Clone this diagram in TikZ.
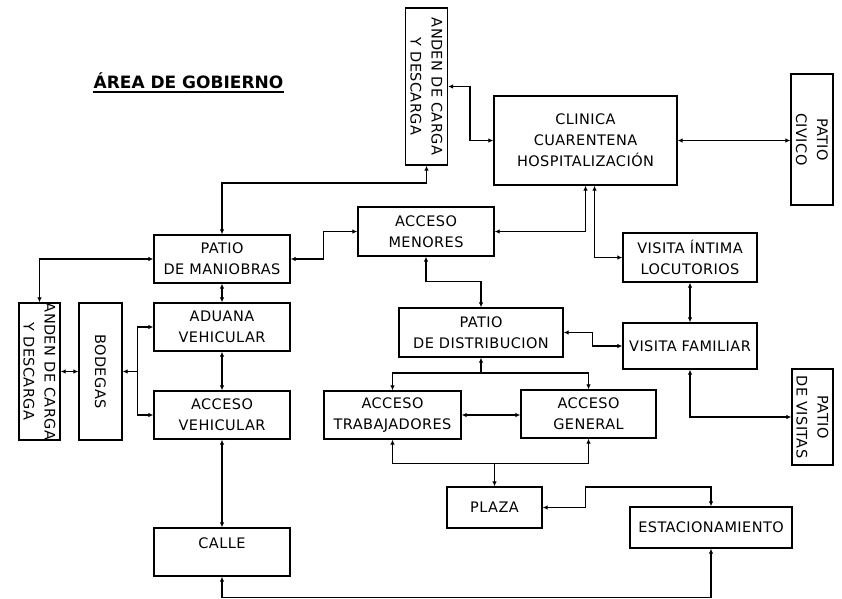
\documentclass[tikz,border=0pt]{standalone}
\usepackage{fontspec}
\setmainfont{DejaVu Sans}
\newfontfamily\boxfont[LetterSpace=3]{DejaVu Sans}
\usetikzlibrary{arrows.meta,calc}
\begin{document}
\begin{tikzpicture}[x=1pt,y=-1pt,
  boxtext/.style={font=\boxfont\fontsize{14.5}{21}\selectfont, align=center, inner sep=0pt},
  box/.style={draw, line width=1.3pt, inner sep=0pt, boxtext},
  rotlab/.style={boxtext, rotate=-90},
  conn/.style={line width=1.1pt, {Latex[length=5pt,width=4.5pt]}-{Latex[length=5pt,width=4.5pt]}},
  conne/.style={line width=1.1pt, -{Latex[length=5pt,width=4.5pt]}},
  conns/.style={line width=1.1pt, {Latex[length=5pt,width=4.5pt]}-},
]
\useasboundingbox[fill=white] (0,0) rectangle (842,598);

% title
\node[font=\bfseries\fontsize{17}{20}\selectfont, anchor=base, inner sep=0pt] (title) at (188.5,88) {ÁREA DE GOBIERNO};
\draw[line width=1.3pt] ([yshift=-4pt]title.base west) -- ([yshift=-4pt]title.base east);

% boxes
\node[box, minimum width=42pt, minimum height=157pt, label={[rotlab]center:{ANDEN DE CARGA\\Y DESCARGA}}] (andenT) at (426.5,86.5) {};
\node[box, minimum width=183pt, minimum height=89pt] (clin) at (585.5,140.5) {CLINICA\\CUARENTENA\\HOSPITALIZACIÓN};
\node[box, minimum width=42pt, minimum height=131pt, label={[rotlab]center:{PATIO\\CIVICO}}] (civ) at (812,139.5) {};
\node[box, minimum width=136pt, minimum height=49pt] (amen) at (426,231.5) {ACCESO\\MENORES};
\node[box, minimum width=136pt, minimum height=48pt] (pman) at (222,259) {PATIO\\DE MANIOBRAS};
\node[box, minimum width=134pt, minimum height=49pt] (vint) at (690,257.5) {VISITA ÍNTIMA\\LOCUTORIOS};
\node[box, minimum width=41pt, minimum height=137pt, label={[rotlab]center:{ANDEN DE CARGA\\Y DESCARGA}}] (andenL) at (39.5,371.5) {};
\node[box, minimum width=43pt, minimum height=137pt, label={[rotlab]center:BODEGAS}] (bod) at (100.5,371.5) {};
\node[box, minimum width=136pt, minimum height=48pt] (adu) at (222,327) {ADUANA\\VEHICULAR};
\node[box, minimum width=136pt, minimum height=48pt] (avh) at (222,415) {ACCESO\\VEHICULAR};
\node[box, minimum width=136pt, minimum height=48pt] (calle) at (222,552) {\raisebox{18pt}{CALLE}};
\node[box, minimum width=164pt, minimum height=49pt] (pdis) at (481,332.5) {PATIO\\DE DISTRIBUCION};
\node[box, minimum width=137pt, minimum height=48pt] (atra) at (392.5,415) {ACCESO\\TRABAJADORES};
\node[box, minimum width=135pt, minimum height=48pt] (agen) at (588.5,414) {ACCESO\\GENERAL};
\node[box, minimum width=134pt, minimum height=46pt] (vfam) at (690,346) {VISITA FAMILIAR};
\node[box, minimum width=41pt, minimum height=96pt, label={[rotlab]center:{PATIO\\DE VISITAS}}] (pvis) at (812.5,417) {};
\node[box, minimum width=95pt, minimum height=41pt] (plaza) at (494.5,507.5) {PLAZA};
\node[box, minimum width=162pt, minimum height=41pt] (est) at (711,527.5) {ESTACIONAMIENTO};

% junction coordinates
\coordinate (b1) at (426.5,183);
\coordinate (b2) at (470,110);
\coordinate (fork1) at (137.5,371.5);
\coordinate (fork2) at (481,373);
\coordinate (j1) at (494.5,463);

% connectors
\draw[conn] (pman.north) |- (b1) -- (andenT.south);
\draw[conn] (andenT.east) -| (b2) |- (clin.west);
\draw[conn] (clin.east) -- (clin.east -| civ.west);
\draw[conn] (clin.south) |- (amen.east);
\draw[conn] ([xshift=9pt]clin.south) |- (vint.west);
\draw[conn] (pman.east) -- ++(33,0) |- (amen.west);
\draw[conn] (pman.west) -| (andenL.north);
\draw[conn] (pman.south) -- (adu.north);
\draw[conn] (andenL.east) -- (bod.west);
\draw[conns] (bod.east) -- (fork1);
\draw[conne] (fork1) |- (adu.west);
\draw[conne] (fork1) |- (avh.west);
\draw[conn] (adu.south) -- (avh.north);
\draw[conn] (avh.south) -- (calle.north);
\draw[conn] (calle.south) -- ++(0,21) -| (est.south);
\draw[conn] (amen.south) -- ++(0,25) -| (pdis.north);
\draw[conn] (pdis.east) -- ++(29,0) |- (vfam.west);
\draw[conn] (vint.south) -- (vfam.north);
\draw[conn] (vfam.south) |- (pvis.west);
\draw[conns] (pdis.south) -- (fork2);
\draw[conne] (fork2) -| (atra.north);
\draw[conne] (fork2) -| (agen.north);
\draw[conn] (atra.east) -- (atra.east -| agen.west);
\draw[conn] (atra.south) -- ++(0,24) -| (agen.south);
\draw[conne] (j1) -- (plaza.north);
\draw[conn] (plaza.east) -- ++(43,0) -- ++(0,-20.5) -| (est.north);
\end{tikzpicture}
\end{document}
